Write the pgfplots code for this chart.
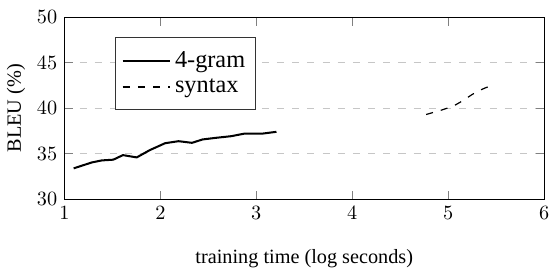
\documentclass[border=0pt]{standalone}
\usepackage{fontspec}
\setmainfont{Liberation Serif}
\usepackage{pgfplots}
\pgfplotsset{compat=1.18}
\begin{document}
\begin{tikzpicture}
\begin{axis}[
  width=237pt, height=90pt, scale only axis,
  xmin=1, xmax=6, ymin=30, ymax=50,
  xtick={1,2,3,4,5,6}, ytick={30,35,40,45,50},
  ymajorgrids, major grid style={dash pattern=on 3.5pt off 4pt, gray!45},
  xlabel={training time (log seconds)},
  ylabel={BLEU (\(\%\))},
  ylabel style={yshift=-1pt},
  xlabel style={yshift=-8pt},
  legend style={at={(0.106,0.891)}, anchor=north west, draw=black!80, font=\rmfamily\large, row sep=0pt, inner xsep=3pt, inner ysep=5pt},
  legend image code/.code={\draw[#1] (0cm,0cm) -- (0.82cm,0cm);},
  legend cell align=left,
]
\addplot[black, line width=1pt] coordinates {
(1.097,33.39)(1.287,34.04)(1.39,34.26)(1.51,34.34)(1.61,34.84)(1.754,34.59)
(1.89,35.39)(2.05,36.15)(2.19,36.37)(2.33,36.19)(2.44,36.56)(2.58,36.74)
(2.74,36.92)(2.88,37.21)(3.07,37.21)(3.21,37.4)
};
\addlegendentry{4-gram\hspace{5pt}}
\addplot[black, semithick, dash pattern=on 3.5pt off 4pt] coordinates {
(4.77,39.3)(4.92,39.75)(5.05,40.2)(5.15,40.8)(5.25,41.5)(5.36,42.1)(5.45,42.5)
};
\addlegendentry{syntax}
\end{axis}
\path (current axis.north) ++(0,8.4pt);
\path (current axis.south) ++(0,-33pt);
\end{tikzpicture}
\end{document}
